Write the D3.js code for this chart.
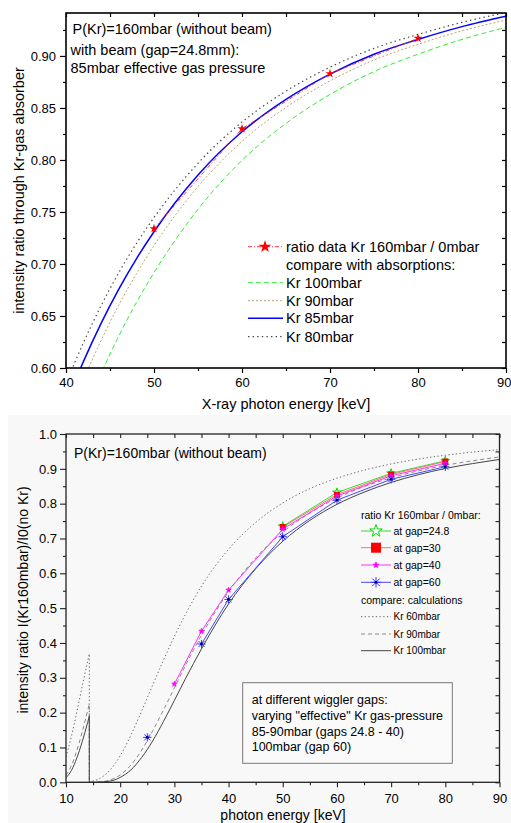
<!DOCTYPE html>
<html><head><meta charset="utf-8">
<script src="https://cdn.jsdelivr.net/npm/d3@7"></script>
<style>body{margin:0;background:#fff} svg{display:block} text{font-family:"Liberation Sans",Arial,Helvetica,sans-serif;fill:#000}</style>
</head><body><svg id="c" width="511" height="823"></svg>
<script>
// ---------- data: top chart ----------
const topEnergies = [40,42,44,46,48,50,55,60,65,70,75,80,85,90];
const topKr100 = [0.5116,0.5554,0.5950,0.6307,0.6629,0.6917,0.7526,0.7996,0.8352,0.8630,0.8850,0.9017,0.9159,0.9275];
const topKr90  = [0.5470,0.5890,0.6267,0.6605,0.6906,0.7177,0.7744,0.8179,0.8506,0.8760,0.8961,0.9112,0.9241,0.9346];
const topKr85  = [0.5657,0.6066,0.6432,0.6759,0.7050,0.7310,0.7855,0.8271,0.8583,0.8826,0.9017,0.9159,0.9282,0.9382];
const topKr80  = [0.5850,0.6247,0.6601,0.6916,0.7197,0.7446,0.7968,0.8365,0.8662,0.8892,0.9073,0.9207,0.9323,0.9418];
const topRatioE = [50,60,70,80];
const topRatio  = [0.734,0.830,0.883,0.917];
const topXTicks = [40,50,60,70,80,90];
const topYTicks = [0.60,0.65,0.70,0.75,0.80,0.85,0.90];

// ---------- data: bottom chart ----------
const botLowE  = [10,11,12,13,14,14.3];
const botHighE = [14.3,16,18,20,22,24,26,28,30,32,35,40,45,50,55,60,65,70,75,80,85,90];
const kr60Low   = [0.073,0.132,0.202,0.276,0.348,0.369];
const kr60High  = [0.002,0.009,0.033,0.076,0.136,0.206,0.279,0.351,0.419,0.481,0.563,0.669,0.746,0.802,0.843,0.873,0.896,0.914,0.928,0.939,0.948,0.955];
const kr90Low   = [0.020,0.048,0.091,0.145,0.206,0.224];
const kr90High  = [0,0.001,0.006,0.021,0.050,0.093,0.148,0.208,0.271,0.334,0.422,0.547,0.644,0.718,0.773,0.816,0.849,0.874,0.894,0.910,0.923,0.934];
const kr100Low  = [0.013,0.034,0.070,0.117,0.172,0.190];
const kr100High = [0,0.0004,0.003,0.014,0.036,0.072,0.119,0.175,0.235,0.296,0.383,0.512,0.613,0.692,0.752,0.798,0.833,0.861,0.883,0.901,0.915,0.927];
const gap248E = [50,60,70,80], gap248 = [0.735,0.832,0.887,0.923];
const gap30E  = [50,60,70,80], gap30  = [0.733,0.826,0.884,0.921];
const gap40E  = [30,35,40,50,60,70,80], gap40 = [0.282,0.434,0.552,0.727,0.822,0.880,0.916];
const gap60E  = [25,35,40,50,60,70,80], gap60 = [0.129,0.397,0.525,0.705,0.810,0.870,0.906];
const gap60LineFrom = 35;
const botXTicks = [10,20,30,40,50,60,70,80,90];
const botYTicks = [0,0.1,0.2,0.3,0.4,0.5,0.6,0.7,0.8,0.9,1.0];

const svg = d3.select("#c");

// ================= TOP CHART =================
const tx = d3.scaleLinear().domain([40,90]).range([66,506]);
const ty = d3.scaleLinear().domain([0.6,0.9413]).range([368,13]);
const tg = svg.append("g");
tg.append("clipPath").attr("id","clipT").append("rect")
  .attr("x",66).attr("y",13).attr("width",440).attr("height",355);

function zip(E,V){return E.map((e,i)=>[e,V[i]]);}
const tLine = d3.line().x(d=>tx(d[0])).y(d=>ty(d[1])).curve(d3.curveMonotoneX);
const plotT = tg.append("g").attr("clip-path","url(#clipT)");
const topSeries = [
  {v:topKr100, stroke:"#33ee33", dash:"5,3", w:1},
  {v:topKr90,  stroke:"#b9a86e", dash:"2,2", w:1},
  {v:topKr80,  stroke:"#444",    dash:"1.4,3.2", w:1.2},
  {v:topKr85,  stroke:"#0000ff", dash:null, w:1.5}
];
topSeries.forEach(s=>{
  plotT.append("path").attr("d",tLine(zip(topEnergies,s.v))).attr("fill","none")
    .attr("stroke",s.stroke).attr("stroke-width",s.w).attr("stroke-dasharray",s.dash);
});
plotT.append("path").attr("d",d3.line().x(d=>tx(d[0])).y(d=>ty(d[1]))(zip(topRatioE,topRatio)))
  .attr("fill","none").attr("stroke","#ff2020").attr("stroke-width",0.9).attr("stroke-dasharray","4,2,1,2");
const starSym = d3.symbol().type(d3.symbolStar);
plotT.selectAll(".st").data(zip(topRatioE,topRatio)).join("path")
  .attr("transform",d=>`translate(${tx(d[0])},${ty(d[1])})`)
  .attr("d",starSym.size(26)()).attr("fill","#ff0000");

// axes top chart
const tAxB = tg.append("g").attr("transform","translate(0,368)");
tAxB.call(d3.axisBottom(tx).tickValues(topXTicks).tickSize(5).tickPadding(5).tickFormat(d3.format("d")));
tAxB.append("g").call(d3.axisBottom(tx).tickValues(d3.range(45,90,10)).tickSize(3).tickFormat(""));
const tAxL = tg.append("g").attr("transform","translate(66,0)");
tAxL.call(d3.axisLeft(ty).tickValues(topYTicks).tickSize(6).tickPadding(4).tickFormat(d3.format(".2f")));
tAxL.append("g").call(d3.axisLeft(ty).tickValues(d3.range(0.625,0.94,0.05)).tickSize(3).tickFormat(""));
const tAxT = tg.append("g").attr("transform","translate(0,13)");
tAxT.call(d3.axisBottom(tx).tickValues(d3.range(40,91,5)).tickSize(4).tickFormat(""));
const tAxR = tg.append("g").attr("transform","translate(506,0)");
tAxR.call(d3.axisLeft(ty).tickValues(d3.range(0.6,0.94,0.025)).tickSize(4).tickFormat(""));
[tAxB,tAxL,tAxT,tAxR].forEach(a=>{
  a.selectAll(".domain").remove();
  a.selectAll("line").attr("stroke","#000").attr("stroke-width",1.2);
  a.selectAll("text").attr("font-size","13px").attr("font-family","Liberation Sans, Arial").attr("fill","#000");
});
// keep the last x label inside the page
tAxB.selectAll(".tick text").filter(d=>d===90).attr("text-anchor","end").attr("dx","5px");
tg.append("rect").attr("x",66).attr("y",13).attr("width",440).attr("height",355)
  .attr("fill","none").attr("stroke","#000").attr("stroke-width",1.6);

tg.append("text").attr("x",286).attr("y",404).attr("text-anchor","middle").attr("dominant-baseline","central")
  .attr("font-size","14.5px").text("X-ray photon energy [keV]");
tg.append("text").attr("transform","translate(19,190.5) rotate(-90)").attr("text-anchor","middle")
  .attr("dominant-baseline","central").attr("font-size","14.5px").text("intensity ratio through Kr-gas absorber");

const tTitle = [["P(Kr)=160mbar (without beam)",72.5,28.5],["with beam (gap=24.8mm):",70.5,49.5],["85mbar effective gas pressure",70.5,67.5]];
tTitle.forEach(t=>tg.append("text").attr("x",t[1]).attr("y",t[2]).attr("dominant-baseline","central")
  .attr("font-size","14.5px").text(t[0]));

// top legend
const tLeg = tg.append("g");
const tLegRows = [
  {t:"ratio data Kr 160mbar / 0mbar", y:246.7, stroke:"#ff2020", dash:"4,2,1,2", w:0.9, star:true},
  {t:"compare with absorptions:", y:265, stroke:null},
  {t:"Kr 100mbar", y:282.7, stroke:"#33ee33", dash:"5,3", w:1},
  {t:"Kr 90mbar",  y:300.7, stroke:"#b9a86e", dash:"2,2", w:1},
  {t:"Kr 85mbar",  y:318.3, stroke:"#0000ff", dash:null, w:1.5},
  {t:"Kr 80mbar",  y:336.7, stroke:"#444", dash:"1.4,3.2", w:1.2}
];
tLegRows.forEach(r=>{
  if(r.stroke) tLeg.append("line").attr("x1",248).attr("x2",283).attr("y1",r.y).attr("y2",r.y)
    .attr("stroke",r.stroke).attr("stroke-width",r.w).attr("stroke-dasharray",r.dash);
  if(r.star) tLeg.append("path").attr("transform",`translate(265,${r.y})`).attr("d",starSym.size(50)()).attr("fill","#ff0000");
  tLeg.append("text").attr("x",286).attr("y",r.y).attr("dominant-baseline","central").attr("font-size","14.5px").text(r.t);
});

// ================= BOTTOM CHART =================
svg.append("rect").attr("x",8).attr("y",415).attr("width",503).attr("height",408).attr("fill","#f8f8f8");
const bx = d3.scaleLinear().domain([10,90]).range([66,499.5]);
const by = d3.scaleLinear().domain([0,1]).range([782.3,434]);
const bg = svg.append("g");
bg.append("clipPath").attr("id","clipB").append("rect")
  .attr("x",66).attr("y",434).attr("width",433.5).attr("height",348.3);
const plotB = bg.append("g").attr("clip-path","url(#clipB)");
const bLine = d3.line().x(d=>bx(d[0])).y(d=>by(d[1])).curve(d3.curveMonotoneX);
const bLin = d3.line().x(d=>bx(d[0])).y(d=>by(d[1]));
function edgePath(lowV,highV){
  const a = bLine(zip(botLowE,lowV));
  const b = bLine(zip(botHighE,highV));
  return a + "L" + b.slice(1);
}
const calc = [
  {lo:kr60Low, hi:kr60High, stroke:"#666", dash:"1.3,2.4", w:1},
  {lo:kr90Low, hi:kr90High, stroke:"#8a8a8a", dash:"4,3", w:1},
  {lo:kr100Low, hi:kr100High, stroke:"#444", dash:null, w:1}
];
calc.forEach(c=>plotB.append("path").attr("d",edgePath(c.lo,c.hi)).attr("fill","none")
  .attr("stroke",c.stroke).attr("stroke-width",c.w).attr("stroke-dasharray",c.dash));

const asterisk = {draw(ctx,size){const r=Math.sqrt(size)/2, d=r*0.72;
  ctx.moveTo(0,-r);ctx.lineTo(0,r);ctx.moveTo(-r,0);ctx.lineTo(r,0);
  ctx.moveTo(-d,-d);ctx.lineTo(d,d);ctx.moveTo(-d,d);ctx.lineTo(d,-d);}};
// marker builders take a symbol size (area)
const gapSeries = [
  {E:gap248E, v:gap248, line:"#33dd33", from:0, sz:[24,48],
   mk:(g,s)=>g.append("path").attr("d",d3.symbol().type(d3.symbolStar).size(s)()).attr("fill","#fff").attr("stroke","#00dd00").attr("stroke-width",1)},
  {E:gap30E, v:gap30, line:"#ff7070", from:0, sz:[34,100],
   mk:(g,s)=>g.append("path").attr("d",d3.symbol().type(d3.symbolSquare).size(s)()).attr("fill","#ff0000")},
  {E:gap40E, v:gap40, line:"#ff30ff", from:0, sz:[9,10],
   mk:(g,s)=>g.append("path").attr("d",d3.symbol().type(d3.symbolStar).size(s)()).attr("fill","#ff00ff").attr("stroke","#ff00ff").attr("stroke-width",0.8)},
  {E:gap60E, v:gap60, line:"#4848ff", from:gap60LineFrom, sz:[70,110],
   mk:(g,s)=>{g.append("path").attr("d",d3.symbol().type(asterisk).size(s)()).attr("fill","none").attr("stroke","#3a3aff").attr("stroke-width",1);
      g.append("circle").attr("r",1.4).attr("fill","#000080");}}
];
gapSeries.forEach(s=>{
  const pts = zip(s.E,s.v);
  plotB.append("path").attr("d",bLin(pts.filter(p=>p[0]>=s.from))).attr("fill","none")
    .attr("stroke",s.line).attr("stroke-width",1);
});
gapSeries.forEach(s=>{
  zip(s.E,s.v).forEach(p=>{
    const g = plotB.append("g").attr("transform",`translate(${bx(p[0])},${by(p[1])})`);
    s.mk(g,s.sz[0]);
  });
});

// axes bottom
const bAxB = bg.append("g").attr("transform","translate(0,782.3)");
bAxB.call(d3.axisBottom(bx).tickValues(botXTicks).tickSize(5).tickPadding(6).tickFormat(d3.format("d")));
bAxB.append("g").call(d3.axisBottom(bx).tickValues(d3.range(15,90,10)).tickSize(3).tickFormat(""));
const bAxL = bg.append("g").attr("transform","translate(66,0)");
bAxL.call(d3.axisLeft(by).tickValues(botYTicks).tickSize(6).tickPadding(3).tickFormat(d3.format(".1f")));
bAxL.append("g").call(d3.axisLeft(by).tickValues(d3.range(0.05,1,0.1)).tickSize(3).tickFormat(""));
const bAxT = bg.append("g").attr("transform","translate(0,434)");
bAxT.call(d3.axisBottom(bx).tickValues(d3.range(10,91,5)).tickSize(4).tickFormat(""));
const bAxR = bg.append("g").attr("transform","translate(499.5,0)");
bAxR.call(d3.axisLeft(by).tickValues(d3.range(0,1.01,0.05)).tickSize(4).tickFormat(""));
[bAxB,bAxL,bAxT,bAxR].forEach(a=>{
  a.selectAll(".domain").remove();
  a.selectAll("line").attr("stroke","#222").attr("stroke-width",1.1);
  a.selectAll("text").attr("font-size","13px").attr("font-family","Liberation Sans, Arial").attr("fill","#111");
});
bg.append("rect").attr("x",66).attr("y",434).attr("width",433.5).attr("height",348.3)
  .attr("fill","none").attr("stroke","#222").attr("stroke-width",1.3);

bg.append("text").attr("x",283).attr("y",815).attr("text-anchor","middle").attr("dominant-baseline","central")
  .attr("font-size","14px").attr("fill","#111").text("photon energy [keV]");
bg.append("text").attr("transform","translate(23,600) rotate(-90)").attr("text-anchor","middle")
  .attr("dominant-baseline","central").attr("font-size","14px").attr("fill","#111").text("intensity ratio I(Kr160mbar)/I0(no Kr)");
bg.append("text").attr("x",74).attr("y",453.3).attr("dominant-baseline","central").attr("font-size","14px").attr("fill","#111")
  .text("P(Kr)=160mbar (without beam)");

// bottom legend
const bLeg = bg.append("g");
bLeg.append("text").attr("x",361).attr("y",515).attr("dominant-baseline","central").attr("font-size","10.5px").attr("fill","#222").text("ratio Kr 160mbar / 0mbar:");
const gapLabels = ["at gap=24.8","at gap=30","at gap=40","at gap=60"];
const gapLegY = [531,547.7,565,582.3];
gapSeries.forEach((s,i)=>{
  bLeg.append("line").attr("x1",361).attr("x2",391).attr("y1",gapLegY[i]).attr("y2",gapLegY[i]).attr("stroke",s.line).attr("stroke-width",1);
  const g = bLeg.append("g").attr("transform",`translate(376,${gapLegY[i]})`);
  s.mk(g,s.sz[1]);
  bLeg.append("text").attr("x",393.5).attr("y",gapLegY[i]).attr("dominant-baseline","central").attr("font-size","10.5px").attr("fill","#222").text(gapLabels[i]);
});
bLeg.append("text").attr("x",361).attr("y",600).attr("dominant-baseline","central").attr("font-size","10.5px").attr("fill","#222").text("compare: calculations");
const calcLabels = ["Kr 60mbar","Kr 90mbar","Kr 100mbar"];
const calcLegY = [616.7,634,650.7];
calc.forEach((c,i)=>{
  bLeg.append("line").attr("x1",361).attr("x2",391).attr("y1",calcLegY[i]).attr("y2",calcLegY[i]).attr("stroke",c.stroke).attr("stroke-width",c.w).attr("stroke-dasharray",c.dash);
  bLeg.append("text").attr("x",393.5).attr("y",calcLegY[i]).attr("dominant-baseline","central").attr("font-size","10px").attr("fill","#222").text(calcLabels[i]);
});

// annotation box
bg.append("rect").attr("x",242.7).attr("y",682.7).attr("width",209.6).attr("height",80.6).attr("fill","#fafafa").attr("stroke","#777").attr("stroke-width",1);
const boxLines = ["at different wiggler gaps:","varying \"effective\" Kr gas-pressure","85-90mbar (gaps 24.8 - 40)","100mbar (gap 60)"];
const boxY = [700,715.7,731.7,747.3];
boxLines.forEach((t,i)=>bg.append("text").attr("x",251.7).attr("y",boxY[i]).attr("dominant-baseline","central").attr("font-size","12.5px").attr("fill","#111").text(t));
</script></body></html>
